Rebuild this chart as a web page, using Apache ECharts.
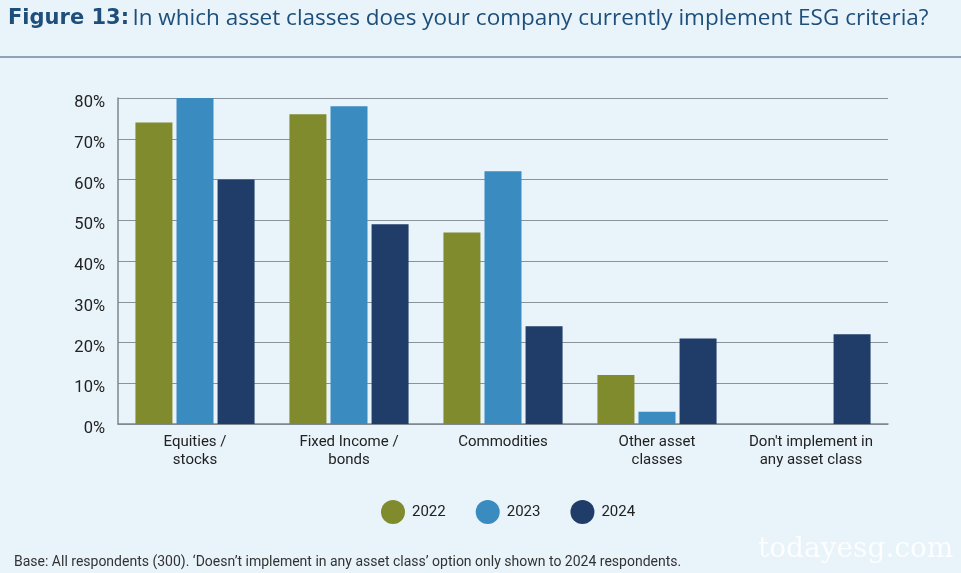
<!DOCTYPE html>
<html><head><meta charset="utf-8">
<script src="https://cdn.jsdelivr.net/npm/echarts@6/dist/echarts.min.js"></script>
<style>html,body{margin:0;padding:0;background:#e8f3fa;}#c{width:961px;height:573px;}</style>
</head><body><div id="c"></div>
<script>
const categories = ['Equities /\nstocks', 'Fixed Income /\nbonds', 'Commodities', 'Other asset\nclasses', "Don't implement in\nany asset class"];
const seriesNames = ['2022', '2023', '2024'];
const v2022 = [74, 76, 47, 12, 0];
const v2023 = [80, 78, 62, 3, 0];
const v2024 = [60, 49, 24, 21, 22];
const yTicks = [0, 10, 20, 30, 40, 50, 60, 70, 80];
const colors = ['#7f8b2d', '#3a8bc0', '#1f3d68'];

const chart = echarts.init(document.getElementById('c'));
const values = [v2022, v2023, v2024];
chart.setOption({
  backgroundColor: '#e8f3fa',
  animation: false,
  graphic: [
    { type: 'text', left: 8, top: 7, style: { text: '{b|Figure 13:} {r|In which asset classes does your company currently implement ESG criteria?}',
      rich: { b: { fontFamily: 'DejaVu Sans', fontWeight: 'bold', fontSize: 21, fill: '#1e4f7a' }, r: { fontFamily: 'Open Sans', fontSize: 22.5, fill: '#1e4f7a' } } } },
    { type: 'rect', shape: { x: 0, y: 56, width: 961, height: 2 }, style: { fill: '#8da3b8' } },
    { type: 'text', left: 14, top: 555, style: { text: "Base: All respondents (300). ‘Doesn’t implement in any asset class’ option only shown to 2024 respondents.", fontFamily: 'Roboto', fontSize: 14, fill: '#333' } },
    { type: 'text', left: 758, top: 536, style: { text: 'todayesg.com', fontFamily: 'DejaVu Serif', fontSize: 28, fill: 'rgba(255,255,255,0.85)' } }
  ],
  grid: { left: 118, right: 73, top: 98, bottom: 149 },
  legend: {
    top: 495, left: 376, itemGap: 30, icon: 'circle', itemWidth: 24, itemHeight: 24,
    textStyle: { fontFamily: 'Roboto', fontSize: 15, color: '#222', padding: [0, 0, 0, 2] },
    data: seriesNames
  },
  xAxis: {
    type: 'category', data: categories,
    axisLine: { lineStyle: { color: '#7d8790', width: 1.5 } },
    axisTick: { show: false },
    axisLabel: { interval: 0, fontFamily: 'Roboto', fontSize: 15, color: '#222', lineHeight: 18, margin: 9 }
  },
  yAxis: {
    type: 'value', min: 0, max: 80, interval: 10,
    axisLine: { show: true, lineStyle: { color: '#7d8790', width: 1.5 } },
    splitLine: { lineStyle: { color: '#8a939b', width: 1.2 } },
    axisLabel: { fontFamily: 'Roboto', fontSize: 16.5, color: '#222', margin: 13, verticalAlign: 'top', lineHeight: 10, formatter: v => yTicks.includes(v) ? v + '%' : '' }
  },
  series: seriesNames.map((n, i) => ({
    name: n, type: 'bar', data: values[i], barWidth: 37, barGap: '11%',
    itemStyle: { color: colors[i] }
  }))
});
</script></body></html>
